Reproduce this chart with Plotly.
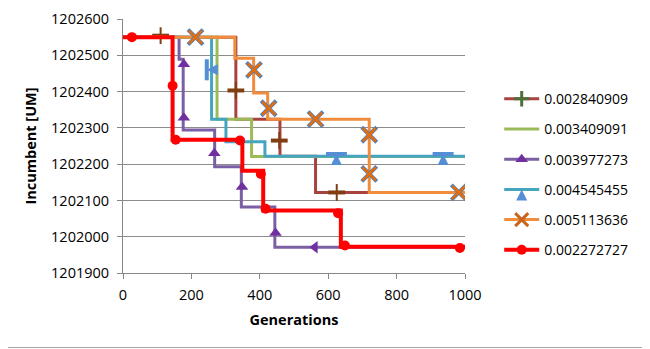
import plotly.graph_objects as go

# ---- data ----
names = ["0.002840909", "0.003409091", "0.003977273", "0.004545455", "0.005113636", "0.002272727"]

# step vertices (value held from x[i] until x[i+1])
s1_x = [0, 330, 459, 563, 1000]
s1_y = [1202550, 1202324, 1202222, 1202122, 1202122]
s1_mx = [110, 330, 457, 625]
s1_my = [1202554, 1202403, 1202265, 1202122]

s2_x = [0, 275, 376, 1000]
s2_y = [1202550, 1202324, 1202221, 1202221]

s3_x = [0, 164, 176, 268, 346, 444, 1000]
s3_y = [1202550, 1202489, 1202294, 1202193, 1202082, 1201971, 1201971]
s3_mx = [178, 178, 267, 348, 446, 561]
s3_my = [1202475, 1202328, 1202230, 1202137, 1202010, 1201971]

s4_x = [0, 259, 301, 415, 1000]
s4_y = [1202550, 1202324, 1202262, 1202222, 1202222]
s4_mx = [245, 624, 936]
s4_my = [1202460, 1202228, 1202228]

s5_x = [0, 327, 382, 423, 720, 1000]
s5_y = [1202550, 1202492, 1202396, 1202324, 1202122, 1202122]
s5_mx = [212, 383, 426, 563, 720, 720, 982]
s5_my = [1202550, 1202460, 1202354, 1202324, 1202281, 1202173, 1202122]

s6_x = [0, 145, 349, 410, 637, 1000]
s6_y = [1202550, 1202267, 1202182, 1202072, 1201972, 1201972]
s6_mx = [26, 145, 154, 342, 403, 417, 629, 649, 985]
s6_my = [1202550, 1202416, 1202267, 1202265, 1202173, 1202077, 1202065, 1201976, 1201969]

x_ticks = [0, 200, 400, 600, 800, 1000]
y_ticks = [1201900, 1202000, 1202100, 1202200, 1202300, 1202400, 1202500, 1202600]

# ---- styling ----
FONT = "Open Sans"
c_line = ["#A8423F", "#9BBB59", "#7B5FA5", "#45A5BF", "#F08C3C", "#FF0000"]
widths = [3, 3, 3, 3, 3, 4]

fig = go.Figure()

def step(x, y, col, w):
    fig.add_trace(go.Scatter(x=x, y=y, mode="lines", line=dict(color=col, width=w, shape="hv"),
                             showlegend=False, hoverinfo="skip"))

def x_marker(x, y):
    # blue-outlined orange X
    fig.add_trace(go.Scatter(x=x, y=y, mode="markers", showlegend=False, hoverinfo="skip",
                             marker=dict(symbol="x-thin", size=15, line=dict(color="#4F81BD", width=4))))
    fig.add_trace(go.Scatter(x=x, y=y, mode="markers", showlegend=False,
                             marker=dict(symbol="x-thin", size=13, line=dict(color="#E46C0A", width=2.5))))

# series 1 (dark red, brown divide-like marker)
step(s1_x, s1_y, c_line[0], widths[0])
fig.add_trace(go.Scatter(x=s1_mx, y=s1_my, mode="markers", showlegend=False,
                         marker=dict(symbol="line-ns", size=12, line=dict(color="#7F3F10", width=2))))
fig.add_trace(go.Scatter(x=s1_mx, y=s1_my, mode="markers", showlegend=False,
                         marker=dict(symbol="line-ew", size=12, line=dict(color="#7F3F10", width=4))))
# series 2 (green, no markers)
step(s2_x, s2_y, c_line[1], widths[1])
# series 3 (purple triangles)
step(s3_x, s3_y, c_line[2], widths[2])
fig.add_trace(go.Scatter(x=s3_mx, y=s3_my, mode="markers", showlegend=False,
                         marker=dict(symbol=["triangle-up"] * 5 + ["triangle-left"], size=11,
                                     color="#7030A0", line=dict(width=0))))
# series 4 (teal, light-blue arrow marker)
step(s4_x, s4_y, c_line[3], widths[3])
fig.add_trace(go.Scatter(x=s4_mx, y=s4_my, mode="markers", showlegend=False,
                         marker=dict(symbol="line-ew", size=15, angle=[-90, 0, 0],
                                     line=dict(color="#558ED5", width=4))))
fig.add_trace(go.Scatter(x=s4_mx, y=s4_my, mode="markers", showlegend=False,
                         marker=dict(symbol="arrow-up", size=11, angle=[-90, 0, 0],
                                     color="#558ED5", line=dict(width=0))))
# series 5 (orange, X)
step(s5_x, s5_y, c_line[4], widths[4])
x_marker(s5_mx, s5_my)
# series 6 (red circles)
step(s6_x, s6_y, c_line[5], widths[5])
fig.add_trace(go.Scatter(x=s6_mx, y=s6_my, mode="markers", showlegend=False,
                         marker=dict(symbol="circle", size=10, color="#FF0000", line=dict(width=0))))

# legend entries
leg_markers = [
    dict(symbol="cross-thin", size=11, color="#4F6F3A", line=dict(color="#4F6F3A", width=3)),
    dict(size=1, opacity=0),
    dict(symbol="triangle-up", size=11, color="#7030A0", line=dict(width=0)),
    dict(symbol="arrow-up", size=11, color="#558ED5", line=dict(width=0)),
    dict(symbol="x-thin", size=13, color="#E46C0A", line=dict(color="#C8651E", width=3)),
    dict(symbol="circle", size=10, color="#FF0000", line=dict(width=0)),
]
for i, nm in enumerate(names):
    fig.add_trace(go.Scatter(x=[None], y=[None], mode="lines+markers", name=nm,
                             line=dict(color=c_line[i], width=widths[i]),
                             marker=leg_markers[i], legendgroup=nm))

# page body adds an 8px offset, so the figure is 8px smaller and margins shifted
OFF = 8
W, H = 650 - OFF, 349 - OFF
L, R, T, B = 123 - OFF, 185, 19 - OFF, 76
pw, ph = W - L - R, H - T - B

fig.update_layout(
    width=W, height=H,
    margin=dict(l=L, r=R, t=T, b=B, autoexpand=False),
    paper_bgcolor="white", plot_bgcolor="white",
    font=dict(family=FONT, size=14, color="#000000"),
    showlegend=True,
    legend=dict(x=1.1, xanchor="left", y=0.387, yanchor="middle",
                font=dict(family=FONT, size=14, color="#000000"),
                traceorder="grouped", tracegroupgap=9, itemwidth=35,
                bgcolor="rgba(0,0,0,0)"),
    xaxis=dict(range=[0, 1000], tickvals=x_ticks, ticks="outside", ticklen=5,
               tickcolor="#868686", showline=True, linecolor="#868686", linewidth=1,
               showgrid=False, zeroline=False, tickfont=dict(size=14.5), automargin=False,
               ticklabelstandoff=4,
               title=dict(text="<b>Generations</b>", font=dict(size=14.5), standoff=11)),
    yaxis=dict(range=[1201900, 1202600], tickvals=y_ticks, ticks="outside", ticklen=5,
               tickcolor="#868686", showline=True, linecolor="#868686", linewidth=1,
               showgrid=True, gridcolor="#8C8C8C", gridwidth=1, zeroline=False,
               tickformat="d", tickfont=dict(size=14.5), automargin=False,
               ticklabelstandoff=5,
               title=dict(text="<b>Incumbent [UM]</b>", font=dict(size=14.5), standoff=10)),
    shapes=[
        dict(type="line", xref="paper", yref="paper",
             x0=(W - L - 1.5) / pw, x1=(W - L - 1.5) / pw, y0=-B / ph, y1=(H - B) / ph,
             line=dict(color="#A6A6A6", width=1)),
        dict(type="line", xref="paper", yref="paper",
             x0=-L / pw, x1=(W - L) / pw, y0=-(B - 1.5) / ph, y1=-(B - 1.5) / ph,
             line=dict(color="#A6A6A6", width=1)),
    ],
)

fig.write_html("out.html")
